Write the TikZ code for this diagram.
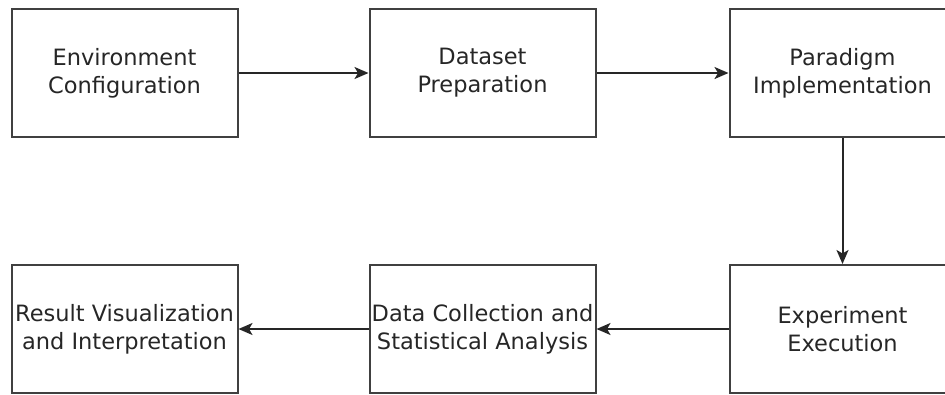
\documentclass[tikz,border=0pt]{standalone}
\usepackage{fontspec}
\setmainfont{DejaVu Sans}
\usepackage{tikz}
\usetikzlibrary{arrows.meta}

\begin{document}
\begin{tikzpicture}[x=1pt, y=-1pt,
    stage/.style={draw=black!75, line width=2pt, minimum width=226pt, minimum height=128pt,
        inner sep=0pt, align=center, text=black!85, font=\fontsize{22.5}{28}\selectfont},
    flow/.style={-{Stealth[length=14pt, width=12pt, inset=3.5pt]}, line width=2pt, draw=black!85}]
    \clip (0,0) rectangle (945,394);
    \useasboundingbox (0,0) rectangle (945,394);
    % top row
    \node[stage] (env)  at (124.5,73) {Environment\\Configuration};
    \node[stage] (data) at (482.5,73) {Dataset\\Preparation};
    \node[stage] (para) at (842.5,73) {Paradigm\\Implementation};
    % bottom row
    \node[stage] (exp)  at (842.5,329) {Experiment\\Execution};
    \node[stage] (coll) at (482.5,329) {Data Collection and\\Statistical Analysis};
    \node[stage] (res)  at (124.5,329) {Result Visualization\\and Interpretation};
    % connectors
    \draw[flow] (env) -- (data);
    \draw[flow] (data) -- (para);
    \draw[flow] (para) -- (exp);
    \draw[flow] (exp) -- (coll);
    \draw[flow] (coll) -- (res);
\end{tikzpicture}
\end{document}
